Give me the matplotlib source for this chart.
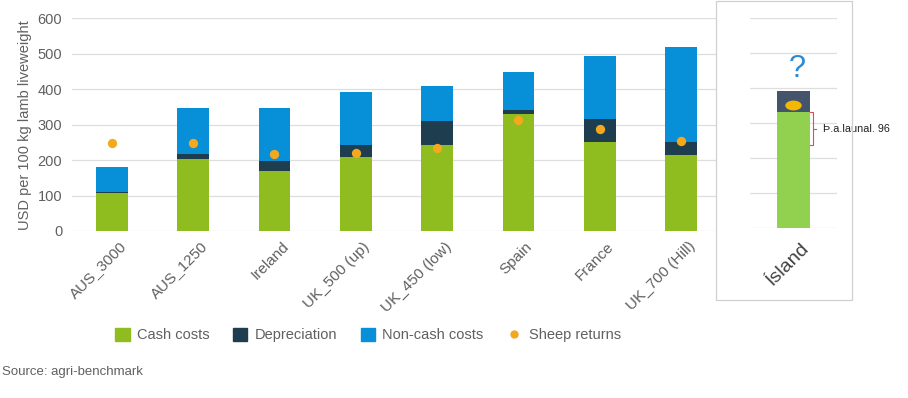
import matplotlib
matplotlib.use("Agg")
import matplotlib.pyplot as plt
import numpy as np
from matplotlib.patches import Rectangle, Patch
from matplotlib.lines import Line2D
from matplotlib.path import Path
from matplotlib.transforms import ScaledTranslation

plt.rcParams.update({
    "font.family": ["Liberation Sans", "DejaVu Sans"],
    "font.size": 10.5,
})

# --- data ---
farms = ["AUS_3000", "AUS_1250", "Ireland", "UK_500 (up)", "UK_450 (low)",
         "Spain", "France", "UK_700 (Hill)"]
cash_costs = [106, 202, 170, 209, 244, 330, 252, 213]
depreciation = [5, 14, 27, 35, 67, 11, 63, 39]
non_cash_costs = [70, 130, 149, 148, 97, 107, 180, 266]
sheep_returns = [247, 247, 216, 221, 235, 313, 287, 255]

island_label = "Ísland"
island_cash = [333]
island_dep = [60]
island_returns = [352]
island_gap = 96
island_note = "Þ.a.launal. 96"

yticks = [0, 100, 200, 300, 400, 500, 600]

C_CASH, C_DEP, C_NONCASH, C_RET = "#8fbc1f", "#1e3d4f", "#078fd7", "#f4a81d"
C_ICASH, C_IDEP, C_IRET = "#92d050", "#44546a", "#f5b800"
GRID = "#dedede"
TXT = "#606060"

fig = plt.figure(figsize=(9.08, 3.98), dpi=100)

# main chart
ax = fig.add_axes([72/908, 1-231/398, (716-72)/908, (231-18.3)/398])
x = np.arange(len(farms))
w = 0.39
ax.bar(x, cash_costs, w, color=C_CASH, zorder=2)
ax.bar(x, depreciation, w, bottom=cash_costs, color=C_DEP, zorder=2)
bot2 = np.array(cash_costs) + np.array(depreciation)
ax.bar(x, non_cash_costs, w, bottom=bot2, color=C_NONCASH, zorder=2)
ax.scatter(x, sheep_returns, s=45, color=C_RET, zorder=3, linewidths=0)

ax.set_xlim(-0.49, 7.43)
ax.set_ylim(0, 600)
ax.set_yticks(yticks)
ax.yaxis.grid(True, color=GRID, linewidth=0.9)
ax.set_axisbelow(True)
for s in ax.spines.values():
    s.set_visible(False)
ax.tick_params(length=0, colors=TXT, labelsize=10.5)
ax.tick_params(axis="y", pad=7)
ax.set_xticks(x)
ax.set_xticklabels(farms, rotation=45, ha="right", rotation_mode="anchor",
                   fontsize=11, color=TXT)
ax.tick_params(axis="x", pad=6)
for lbl in ax.get_xticklabels():
    lbl.set_transform(lbl.get_transform() + ScaledTranslation(5/72, 0, fig.dpi_scale_trans))
ax.set_ylabel("USD per 100 kg lamb liveweight", color=TXT, fontsize=10.5, labelpad=4)

# panel box around the Island inset
fig.patches.append(Rectangle((716/908, 1-300/398), (851.7-716)/908, 299/398,
                             transform=fig.transFigure, fill=False,
                             edgecolor="#d0d0d0", linewidth=0.9))

# inset for Island
ax2 = fig.add_axes([750/908, 1-228.3/398, 86.7/908, 210/398])
ax2.bar([0], island_cash, 0.385, color=C_ICASH, zorder=2)
ax2.bar([0], island_dep, 0.385, bottom=island_cash, color=C_IDEP, zorder=2)
ellipse = Path(Path.unit_circle().vertices * [1.0, 0.6], Path.unit_circle().codes)
ax2.scatter([0], island_returns, s=140, marker=ellipse, color=C_IRET, zorder=3, linewidths=0)
ax2.set_xlim(-0.5, 0.5)
ax2.set_ylim(0, 600)
ax2.set_yticks(yticks)
ax2.set_yticklabels([])
ax2.yaxis.grid(True, color=GRID, linewidth=0.9)
ax2.set_axisbelow(True)
for s in ax2.spines.values():
    s.set_visible(False)
ax2.tick_params(length=0)
ax2.set_xticks([0])
ax2.set_xticklabels([island_label], rotation=45, ha="right", rotation_mode="anchor",
                    fontsize=14, color="#404040")
ax2.tick_params(axis="x", pad=8)
for lbl in ax2.get_xticklabels():
    lbl.set_transform(lbl.get_transform() + ScaledTranslation(5/72, 0, fig.dpi_scale_trans))

# bracket + note
top = island_cash[0]
low = top - island_gap
mid = (top + low) / 2
bx, bedge = 0.23, 0.193
ax2.plot([bedge, bx, bx, bedge], [top, top, low, low], color="#e05050", lw=0.8,
         clip_on=False, zorder=4)
ax2.plot([bx, bx + 0.035], [mid, mid], color="#e05050", lw=0.8, clip_on=False, zorder=4)
ax2.text(0.342, mid, island_note, fontsize=7.8, color="#222222", va="center",
         ha="left", clip_on=False)
ax2.text(0.04, 455, "?", fontsize=22, color="#2a8ad6", ha="center", va="center")

# legend
handles = [Patch(color=C_CASH), Patch(color=C_DEP), Patch(color=C_NONCASH),
           Line2D([], [], marker="o", linestyle="none", color=C_RET, markersize=5)]
names = ["Cash costs", "Depreciation", "Non-cash costs", "Sheep returns"]
leg = fig.legend(handles, names, loc="center", bbox_to_anchor=(368/908, 1-335/398),
                 ncol=4, frameon=False, handlelength=1.0, handleheight=1.0,
                 handletextpad=0.5, columnspacing=1.6, fontsize=10.5)
for t in leg.get_texts():
    t.set_color(TXT)

fig.text(0.002, 1-372/398, "Source: agri-benchmark", fontsize=9.5, color=TXT, va="center")

fig.savefig("out.png", dpi=100)
